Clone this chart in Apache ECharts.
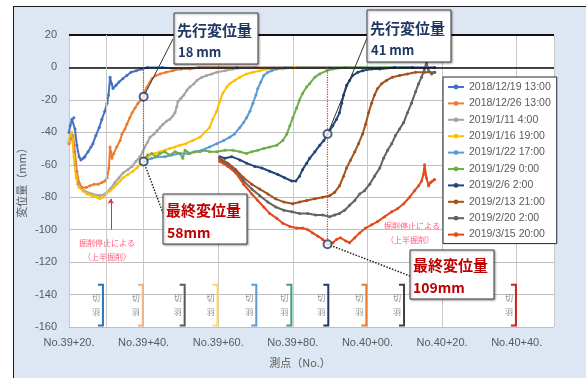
<!DOCTYPE html>
<html>
<head>
<meta charset="utf-8">
<script src="https://cdn.jsdelivr.net/npm/echarts@6/dist/echarts.min.js"></script>
<style>
  html, body { margin: 0; padding: 0; background: #ffffff; }
  #wrap { position: relative; width: 586px; height: 378px; overflow: hidden; }
  #frame { position: absolute; left: 13px; top: 6px; width: 600px; height: 400px;
           background: #dde7f3; border-left: 1px solid #1a1a1a; border-top: 1px solid #1a1a1a; }
  #chart { position: absolute; left: 0; top: 0; width: 586px; height: 378px; }
</style>
</head>
<body>
<div id="wrap"><div id="frame"></div><div id="chart"></div></div>
<script>
// Measurement dates (legend)
const legendNames = [
  '2018/12/19 13:00', '2018/12/26 13:00', '2019/1/11 4:00', '2019/1/16 19:00',
  '2019/1/22 17:00', '2019/1/29 0:00', '2019/2/6 2:00', '2019/2/13 21:00',
  '2019/2/20 2:00', '2019/3/15 20:00'
];
const lineColors = ['#4472C4', '#ED7D31', '#A5A5A5', '#FFC000', '#5B9BD5',
                    '#70AD47', '#264478', '#A5521A', '#636363', '#E24A1E'];

// Settlement profiles: [station (m), displacement (mm)]
const d20181219 = [[3920,-40],[3920.3,-36],[3920.8,-32],[3921.3,-31],[3921.6,-38],[3922.1,-48],[3922.7,-55],[3923.2,-57],[3923.8,-56],[3924.3,-55],[3925.1,-52],[3925.9,-49],[3926.4,-47],[3927.2,-42],[3928.1,-37],[3928.8,-32],[3929.6,-27],[3930.2,-22],[3930.6,-17],[3931.0,-6],[3931.4,-10],[3931.8,-13],[3932.6,-11],[3933.4,-9],[3934.4,-7],[3935.5,-5],[3936.6,-3],[3938.0,-2],[3939.5,-1],[3941,0],[3945,0],[3950,-1],[3955,0],[3960,0],[3965,0],[3970,0]];
const d20181226 = [[3920.0,-47],[3920.5,-44],[3921.1,-42],[3921.6,-52],[3922.1,-64],[3922.7,-71],[3923.5,-74],[3924.6,-74],[3925.6,-73],[3926.7,-72],[3927.8,-72],[3928.8,-71],[3929.6,-70],[3930.2,-68],[3930.7,-62],[3931.0,-49],[3931.2,-52],[3931.5,-56],[3932.0,-53],[3932.8,-49],[3933.7,-45],[3934.2,-41],[3935.0,-38],[3935.5,-35],[3936.3,-31],[3936.9,-28],[3937.7,-25],[3938.5,-22],[3939.3,-20],[3940.0,-18],[3940.3,-15],[3940.9,-12],[3941.7,-9],[3942.2,-7],[3943.3,-5],[3944.4,-4],[3946.0,-3],[3947.8,-2],[3949.7,-1],[3952.4,-1],[3955.1,0],[3960,0],[3970,0],[3980,0],[3990,0]];
const d20190111 = [[3920.0,-46],[3920.8,-42],[3921.6,-60],[3922.4,-72],[3924.0,-76],[3926.2,-78],[3928.3,-79],[3929.6,-78],[3931.0,-75],[3932.3,-71],[3933.4,-68],[3934.5,-65],[3935.8,-63],[3936.9,-61],[3937.9,-58],[3939.0,-55],[3939.8,-52],[3940.3,-49],[3941.1,-46],[3941.7,-43],[3942.8,-41],[3943.6,-39],[3944.4,-37],[3945.2,-35],[3946.2,-33],[3947.0,-32],[3947.8,-30],[3948.4,-28],[3948.9,-24],[3949.2,-21],[3950.0,-19],[3950.8,-17],[3951.6,-14],[3952.4,-12],[3953.5,-10],[3954.3,-8],[3955.6,-6],[3956.9,-5],[3958.3,-4],[3959.6,-3],[3961.8,-2],[3963.9,-1],[3967.1,0],[3975,0],[3985,0],[3995,0]];
const d20190116 = [[3920.0,-45],[3920.3,-42],[3920.8,-40],[3921.3,-55],[3921.9,-68],[3922.7,-74],[3923.7,-76],[3924.8,-78],[3926.2,-79],[3927.5,-80],[3928.3,-81],[3929.1,-80],[3929.9,-78],[3931.0,-76],[3932.0,-74],[3932.8,-72],[3933.7,-70],[3934.5,-68],[3935.8,-66],[3937.1,-64],[3938.2,-62],[3939.0,-60],[3940.0,-58],[3940.9,-56],[3941.7,-54],[3943.0,-53],[3944.4,-52],[3945.7,-51],[3947.0,-50],[3948.4,-49],[3949.7,-48],[3951.3,-47],[3953.2,-45],[3955.1,-43],[3956.4,-40],[3957.7,-37],[3958.5,-32],[3959.6,-27],[3960.4,-21],[3961.2,-16],[3962.3,-12],[3963.1,-10],[3964.4,-8],[3965.8,-6],[3967.6,-4],[3969.3,-3],[3971.1,-2],[3973.0,-1],[3977.3,-1],[3980.5,0],[3990,0],[4000,0]];
const d20190122 = [[3940.0,-58],[3940.9,-57],[3942.2,-56],[3943.8,-55],[3945.7,-55],[3947.6,-54],[3949.7,-53],[3951.9,-53],[3953.7,-52],[3955.6,-51],[3957.7,-49],[3959.6,-47],[3961.5,-45],[3963.1,-43],[3964.4,-41],[3965.8,-37],[3966.8,-34],[3967.6,-31],[3968.5,-27],[3969.3,-22],[3970.1,-17],[3970.6,-13],[3971.4,-9],[3972.2,-5],[3973.3,-3],[3974.3,-2],[3975.7,-1],[3977.8,0],[3990,0],[4000,0],[4008,0]];
const d20190129 = [[3940.0,-57],[3941.1,-54],[3942.2,-53],[3943.3,-55],[3944.4,-53],[3945.7,-52],[3947.0,-54],[3948.4,-52],[3949.7,-53],[3950.5,-56],[3951.1,-51],[3952.4,-53],[3953.7,-52],[3955.1,-52],[3956.4,-51],[3957.7,-52],[3959.6,-52],[3961.8,-51],[3963.9,-51],[3965.8,-52],[3967.6,-53],[3969.0,-52],[3970.6,-51],[3972.2,-50],[3973.8,-49],[3975.7,-48],[3977.3,-45],[3978.4,-41],[3979.2,-36],[3980.0,-31],[3981.0,-25],[3981.8,-20],[3982.6,-16],[3983.7,-12],[3984.5,-10],[3985.9,-6],[3987.2,-4],[3989.1,-2],[3990.7,-1],[3993.9,0],[4005,0],[4012,0]];
const d20190206 = [[3960.4,-55],[3961.8,-56],[3963.6,-55],[3965.8,-57],[3967.6,-59],[3969.8,-61],[3971.7,-62],[3973.8,-64],[3976.0,-66],[3977.8,-68],[3979.7,-70],[3980.8,-70],[3981.8,-67],[3982.6,-63],[3983.7,-59],[3984.5,-56],[3985.9,-52],[3987.2,-48],[3988.3,-45],[3989.3,-41],[3990.7,-36],[3991.7,-32],[3992.5,-28],[3993.1,-22],[3993.6,-17],[3994.4,-11],[3995.2,-8],[3996.0,-5],[3997.4,-3],[3998.7,-2],[4001.1,-1],[4003.3,-1],[4007.3,0],[4012,0],[4018.0,0]];
const d20190213 = [[3960.4,-56],[3962.6,-59],[3964.7,-63],[3966.8,-68],[3969.0,-72],[3971.1,-75],[3973.3,-78],[3975.4,-81],[3977.6,-83],[3980.0,-84],[3981.8,-83],[3983.7,-82],[3985.9,-81],[3988.0,-80],[3989.9,-79],[3991.2,-77],[3992.5,-73],[3993.6,-67],[3994.4,-62],[3995.5,-57],[3996.6,-52],[3997.6,-47],[3998.7,-41],[3999.5,-35],[4000.3,-28],[4001.1,-22],[4001.9,-17],[4002.7,-13],[4003.8,-10],[4005.1,-8],[4006.7,-6],[4008.6,-5],[4010.7,-4],[4012.9,-3],[4015.3,-3],[4018.0,-3]];
const d20190220 = [[3960.4,-57],[3962.6,-60],[3964.7,-64],[3966.8,-70],[3969.0,-75],[3971.1,-79],[3973.3,-83],[3975.4,-86],[3977.6,-88],[3979.7,-89],[3981.8,-90],[3984.0,-90],[3986.1,-91],[3988.0,-91],[3989.9,-92],[3991.2,-91],[3992.5,-90],[3993.9,-88],[3995.2,-85],[3996.6,-82],[3997.9,-78],[3999.2,-76],[4000.6,-72],[4001.9,-67],[4003.3,-62],[4004.3,-56],[4005.4,-51],[4006.5,-47],[4007.5,-42],[4008.6,-38],[4009.7,-34],[4010.7,-28],[4011.8,-22],[4012.9,-15],[4013.7,-10],[4014.5,-6],[4015.3,-1],[4015.8,3],[4016.4,-2],[4017.2,-4],[4018.0,-3]];
const d20190315 = [[3960.4,-58],[3962.6,-61],[3964.7,-65],[3966.8,-72],[3969.0,-78],[3970.6,-82],[3972.2,-86],[3973.8,-90],[3975.7,-93],[3977.3,-96],[3979.2,-98],[3981.0,-99],[3982.6,-99],[3984.0,-100],[3985.3,-102],[3986.7,-104],[3988.0,-106],[3989.3,-109],[3990.7,-108],[3991.7,-106],[3992.8,-105],[3994.2,-107],[3995.2,-108],[3996.6,-105],[3997.9,-102],[3999.5,-99],[4001.1,-97],[4002.7,-95],[4004.6,-92],[4006.5,-89],[4008.1,-87],[4009.7,-84],[4011.3,-80],[4012.6,-76],[4013.7,-73],[4014.5,-70],[4015.0,-66],[4015.3,-60],[4015.8,-68],[4016.4,-73],[4016.9,-71],[4017.4,-70],[4018.0,-69]];
const profiles = [d20181219, d20181226, d20190111, d20190116, d20190122,
                  d20190129, d20190206, d20190213, d20190220, d20190315];

// Face (切羽) station at each measurement date
const faceStations = [3929.1, 3939.8, 3951.0, 3959.8, 3970.2, 3979.6, 3989.5, 3999.7, 4009.8, 4039.8];
const faceColors = ['#2E75B6', '#F4B183', '#595959', '#FFD966', '#5B9BD5',
                    '#3FA07A', '#203864', '#ED7D31', '#404040', '#D02020'];

// Highlighted readings: leading displacement / final displacement
const leadPoints = [[3940.0, -18], [3989.3, -41]];
const finalPoints = [[3940.0, -58], [3989.3, -109]];

// Tick labels
const stationLabel = v => 'No.' + Math.floor(v / 100) + '+' + String(v % 100).padStart(2, '0') + '.';

const FONT = '"Liberation Sans", "Noto Sans CJK JP", sans-serif';
const JP = '"Noto Sans CJK JP", sans-serif';
const faceTop = -134, faceBottom = -159;

const chart = echarts.init(document.getElementById('chart'), null, { renderer: 'canvas' });

const lineSeries = legendNames.map((name, i) => ({
  name: name,
  type: 'line',
  data: profiles[i],
  z: 3,
  symbol: 'circle',
  symbolSize: 3,
  showSymbol: true,
  itemStyle: { color: lineColors[i] },
  lineStyle: { color: lineColors[i], width: 2 },
  emphasis: { disabled: true },
  animation: false
}));

const option = {
  animation: false,
  textStyle: { fontFamily: FONT },
  grid: { left: 69, right: 32, top: 35, bottom: 51, show: true, backgroundColor: '#ffffff', borderWidth: 0 },
  xAxis: {
    type: 'value', min: 3920, max: 4050, interval: 20,
    axisLine: { show: false }, axisTick: { show: false },
    axisLabel: { formatter: stationLabel, color: '#595959', fontSize: 11, margin: 10, showMaxLabel: false, fontFamily: FONT },
    splitLine: { show: true, lineStyle: { color: '#c9c9c9', width: 1 } }
  },
  yAxis: {
    type: 'value', min: -160, max: 20, interval: 20,
    axisLine: { show: false }, axisTick: { show: false },
    axisLabel: { color: '#595959', fontSize: 11, margin: 12, fontFamily: FONT },
    splitLine: { show: true, lineStyle: { color: '#bfbfbf', width: 1 } }
  },
  legend: {
    data: legendNames,
    orient: 'vertical', left: 443, top: 77,
    backgroundColor: '#ffffff', borderColor: '#262626', borderWidth: 1,
    padding: [4, 6, 3, 4],
    itemWidth: 16, itemHeight: 6, itemGap: 4.4,
    textStyle: { color: '#595959', fontSize: 10.5, lineHeight: 12, fontFamily: FONT },
    selectedMode: false
  },
  series: [
    // reference lines under the curves
    {
      type: 'line', data: [], z: 1, silent: true,
      markLine: {
        silent: true, symbol: 'none', label: { show: false }, animation: false,
        data: [
          { yAxis: 20, lineStyle: { color: '#111111', width: 2, type: 'solid' } },
          { yAxis: 0, lineStyle: { color: '#111111', width: 1.6, type: 'solid' } },
          { xAxis: 3930, lineStyle: { color: '#c9c9c9', width: 1, type: 'solid' } }
        ]
      }
    },
    ...lineSeries,
    // face position brackets
    {
      type: 'custom', z: 2, silent: true,
      data: faceStations.map(s => [s]),
      renderItem: function (params, api) {
        const x = api.value(0);
        const top = api.coord([x, faceTop]);
        const bot = api.coord([x, faceBottom]);
        const c = faceColors[params.dataIndex];
        return {
          type: 'group',
          children: [
            { type: 'polyline',
              shape: { points: [[top[0] - 5, top[1]], [top[0], top[1]], [bot[0], bot[1]], [bot[0] - 5, bot[1]]] },
              style: { stroke: c, lineWidth: 2, fill: null } },
            { type: 'text', x: top[0] - 7, y: (top[1] + bot[1]) / 2,
              style: { text: '切\n羽', align: 'center', verticalAlign: 'middle',
                       fill: '#8c8c8c', font: '8px ' + JP, lineHeight: 14 } }
          ]
        };
      }
    },
    // highlighted readings, guides and leaders
    {
      type: 'scatter', z: 6, silent: true,
      data: leadPoints.concat(finalPoints),
      symbol: 'emptyCircle', symbolSize: 8,
      itemStyle: { color: '#203864', borderWidth: 1.4 },
      markLine: {
        silent: true, symbol: 'none', label: { show: false }, animation: false,
        data: [
          [{ coord: finalPoints[0].slice(0, 1).concat([0]) }, { coord: finalPoints[0] }],
          [{ coord: finalPoints[1].slice(0, 1).concat([0]) }, { coord: finalPoints[1] }],
          [{ coord: [3931.2, -100], symbol: 'none' }, { coord: [3931.2, -81], symbol: 'arrow', symbolSize: 5 }],
          [{ coord: leadPoints[0] }, { x: 173, y: 39 }],
          [{ coord: leadPoints[1] }, { x: 367, y: 38 }],
          [{ coord: finalPoints[0] }, { x: 163, y: 213 }],
          [{ coord: finalPoints[1] }, { x: 410, y: 276 }]
        ].map((d, i) => {
          const styles = [
            { color: '#e0303a', width: 1.2, type: 'dotted' },
            { color: '#e0303a', width: 1.2, type: 'dotted' },
            { color: '#e0303a', width: 1, type: 'solid' },
            { color: '#333333', width: 1, type: 'solid' },
            { color: '#333333', width: 1, type: 'solid' },
            { color: '#222222', width: 1.5, type: 'dotted' },
            { color: '#222222', width: 1.5, type: 'dotted' }
          ];
          d[0].lineStyle = styles[i];
          return d;
        })
      }
    }
  ],
  graphic: [
    // axis titles
    { type: 'text', x: 300, y: 363, style: { text: '測点（No.）', align: 'center', verticalAlign: 'middle', fill: '#595959', font: '11px ' + JP } },
    { type: 'text', x: 22, y: 180, rotation: Math.PI / 2, style: { text: '変位量（mm）', align: 'center', verticalAlign: 'middle', fill: '#595959', font: '11px ' + JP } },

    // callout: leading displacement at No.39+40
    { type: 'rect', shape: { x: 174, y: 13, width: 84, height: 51 }, z: 20,
      style: { fill: '#ffffff', stroke: '#404040', lineWidth: 1, shadowBlur: 2, shadowOffsetX: 1, shadowOffsetY: 1, shadowColor: 'rgba(0,0,0,0.35)' } },
    { type: 'text', x: 177, y: 30, z: 21, style: { text: '先行変位量', verticalAlign: 'middle', fill: '#1f3864', font: 'bold 15px ' + JP } },
    { type: 'text', x: 178, y: 52, z: 21, style: { text: '18 mm', verticalAlign: 'middle', fill: '#1f3864', font: 'bold 13px ' + JP } },

    // callout: leading displacement at No.39+89
    { type: 'rect', shape: { x: 367, y: 10, width: 84, height: 52 }, z: 20,
      style: { fill: '#ffffff', stroke: '#404040', lineWidth: 1, shadowBlur: 2, shadowOffsetX: 1, shadowOffsetY: 1, shadowColor: 'rgba(0,0,0,0.35)' } },
    { type: 'text', x: 370, y: 28, z: 21, style: { text: '先行変位量', verticalAlign: 'middle', fill: '#1f3864', font: 'bold 15px ' + JP } },
    { type: 'text', x: 371, y: 50, z: 21, style: { text: '41 mm', verticalAlign: 'middle', fill: '#1f3864', font: 'bold 13px ' + JP } },

    // callout: final displacement at No.39+40
    { type: 'rect', shape: { x: 163, y: 194, width: 84, height: 50 }, z: 20,
      style: { fill: '#ffffff', stroke: '#404040', lineWidth: 1, shadowBlur: 2, shadowOffsetX: 1, shadowOffsetY: 1, shadowColor: 'rgba(0,0,0,0.35)' } },
    { type: 'text', x: 166, y: 210, z: 21, style: { text: '最終変位量', verticalAlign: 'middle', fill: '#c00000', font: 'bold 15px ' + JP } },
    { type: 'text', x: 167, y: 233, z: 21, style: { text: '58mm', verticalAlign: 'middle', fill: '#c00000', font: 'bold 14px ' + JP } },

    // callout: final displacement at No.39+89
    { type: 'rect', shape: { x: 410, y: 250, width: 84, height: 49 }, z: 20,
      style: { fill: '#ffffff', stroke: '#404040', lineWidth: 1, shadowBlur: 2, shadowOffsetX: 1, shadowOffsetY: 1, shadowColor: 'rgba(0,0,0,0.35)' } },
    { type: 'text', x: 413, y: 265, z: 21, style: { text: '最終変位量', verticalAlign: 'middle', fill: '#c00000', font: 'bold 15px ' + JP } },
    { type: 'text', x: 413, y: 288, z: 21, style: { text: '109mm', verticalAlign: 'middle', fill: '#c00000', font: 'bold 14px ' + JP } },

    // notes on excavation stoppage
    { type: 'text', x: 107, y: 243, style: { text: '掘削停止による', align: 'center', verticalAlign: 'middle', fill: '#ff5a78', font: '8px ' + JP } },
    { type: 'text', x: 107, y: 257, style: { text: '（上半掘削）', align: 'center', verticalAlign: 'middle', fill: '#ff5a78', font: '8px ' + JP } },
    { type: 'text', x: 412, y: 226, style: { text: '掘削停止による', align: 'center', verticalAlign: 'middle', fill: '#ff5a78', font: '8px ' + JP } },
    { type: 'text', x: 410, y: 240, style: { text: '（上半掘削）', align: 'center', verticalAlign: 'middle', fill: '#ff5a78', font: '8px ' + JP } }
  ]
};

chart.setOption(option);
</script>
</body>
</html>
